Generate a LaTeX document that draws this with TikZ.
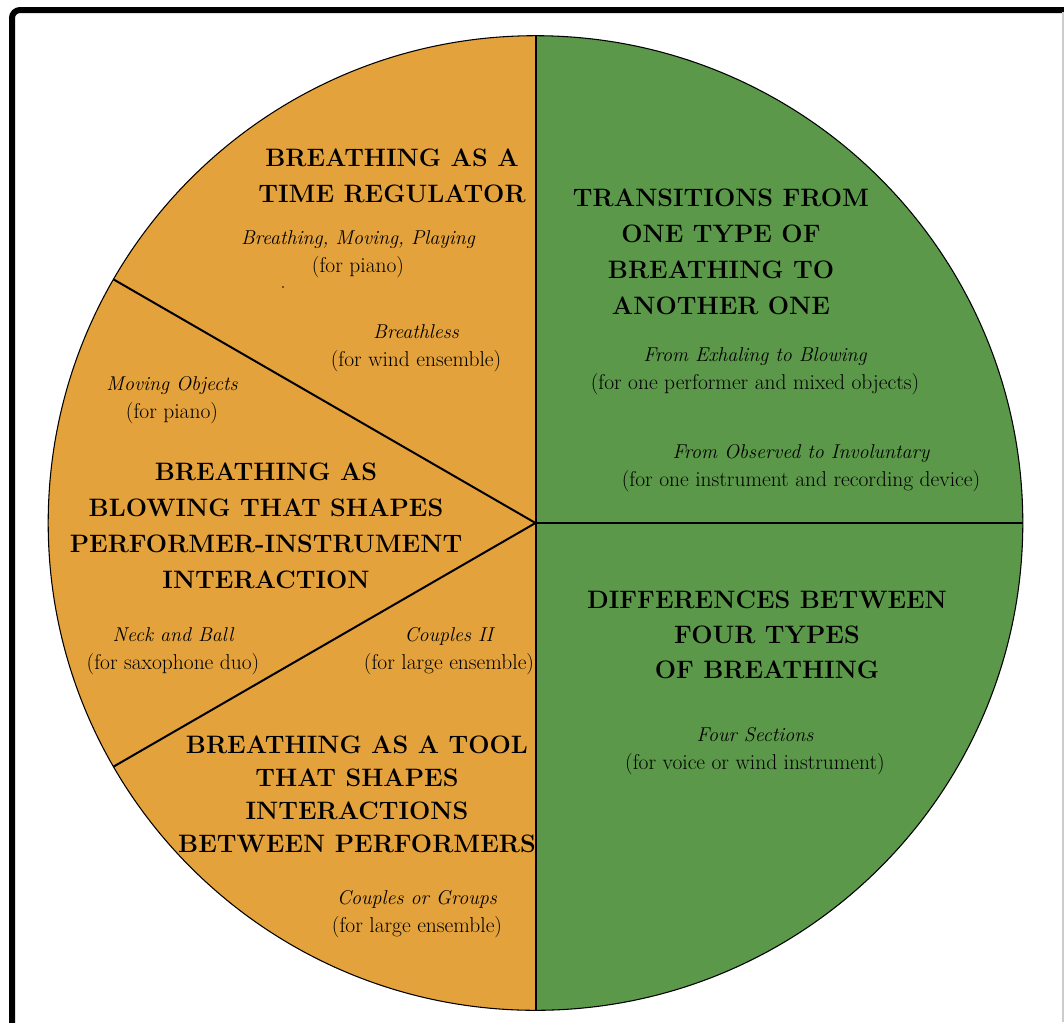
\documentclass[tikz,border=0pt]{standalone}
\usepackage{fontspec}
\usetikzlibrary{calc}
% a work: italic title over its scoring
\newcommand\workfont{\fontsize{15}{21}\selectfont}
\newcommand\scoringfont{\fontsize{16.1}{21}\selectfont}
\newcommand\workitem[2]{{\workfont\itshape #1}\\{\scoringfont\upshape #2}}
\begin{document}
\begin{tikzpicture}[x=0.75pt,y=0.75pt,
  title/.style={align=center,inner sep=0pt,font=\fontsize{18.9}{27}\selectfont\bfseries},
  work/.style={align=center,inner sep=0pt,font=\workfont},
  divider/.style={line width=1.5pt,black},
]
\definecolor{pieorange}{RGB}{228,162,60}
\definecolor{piegreen}{RGB}{91,152,73}
\useasboundingbox (0,0) rectangle (1064,-1022);

% frame
\draw[line width=4.5pt,rounded corners=6pt] (12,-1040) -- (12,-10) -- (1080,-10);
\draw[gray!40,line width=0.8pt] (1063,-12) -- (1063,-1022);

% pie
\coordinate (c) at (535.5,-523);
\def\R{487.3}
\fill[pieorange] (c) -- ++(90:\R) arc[start angle=90,end angle=270,radius=\R] -- cycle;
\fill[piegreen] (c) -- ++(-90:\R) arc[start angle=-90,end angle=90,radius=\R] -- cycle;
\draw[line width=0.8pt] (c) circle[radius=\R];

\coordinate (top) at ($(c)+(90:\R)$);
\coordinate (bot) at ($(c)+(-90:\R)$);
\coordinate (east) at ($(c)+(0:\R)$);
\coordinate (nw) at ($(c)+(150:\R)$);
\coordinate (sw) at ($(c)+(210:\R)$);
\draw[divider] (top) -- (bot);
\draw[divider] (c) -- (east);
\draw[divider] (c) -- (nw);
\draw[divider] (c) -- (sw);

% section titles
\node[title] (regulator) at (392,-176) {BREATHING AS A\\TIME REGULATOR};
\node[title] (blowing) at (266,-526) {BREATHING AS\\BLOWING THAT SHAPES\\PERFORMER-INSTRUMENT\\INTERACTION};
\node[title,font=\fontsize{18.9}{24.7}\selectfont\bfseries] (tool) at (357,-794) {BREATHING AS A TOOL\\THAT SHAPES\\INTERACTIONS\\BETWEEN PERFORMERS};
\node[title] (transitions) at (721,-252) {TRANSITIONS FROM\\ONE TYPE OF\\BREATHING TO\\ANOTHER ONE};
\node[title,font=\fontsize{18.9}{26}\selectfont\bfseries] (differences) at (767,-635) {DIFFERENCES BETWEEN\\FOUR TYPES\\OF BREATHING};

% works
\node[work] (bmp) at (358,-254) {\workitem{Breathing, Moving, Playing}{(for piano)}};
\fill (283,-287) circle[radius=0.9];
\node[work] (breathless) at (416,-348) {\workitem{Breathless}{(for wind ensemble)}};
\node[work] (moving) at (172,-400) {\workitem{Moving Objects}{(for piano)}};
\node[work] (neck) at (173,-651) {\workitem{Neck and Ball}{(for saxophone duo)}};
\node[work] (couples2) at (449,-651) {\workitem{Couples II}{(for large ensemble)}};
\node[work] (groups) at (417,-914) {\workitem{Couples or Groups}{(for large ensemble)}};
\node[work] (exhaling) at (755,-371) {\workitem{From Exhaling to Blowing}{(for one performer and mixed objects)}};
\node[work] (observed) at (801,-468) {\workitem{From Observed to Involuntary}{(for one instrument and recording device)}};
\node[work] (sections) at (755,-751) {\workitem{Four Sections}{(for voice or wind instrument)}};
\end{tikzpicture}
\end{document}
